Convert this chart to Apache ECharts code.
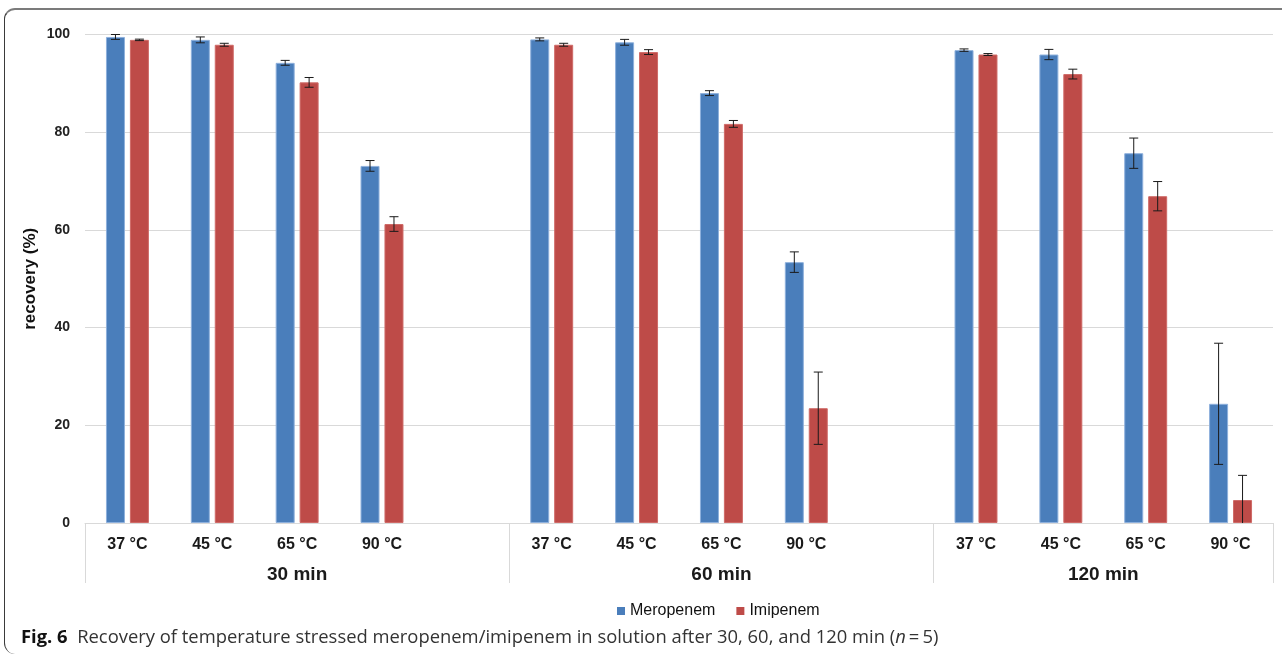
<!DOCTYPE html>
<html>
<head>
<meta charset="utf-8">
<title>Recovery of temperature stressed meropenem/imipenem</title>
<script src="https://cdn.jsdelivr.net/npm/echarts@6/dist/echarts.min.js"></script>
<style>
  html, body { margin: 0; padding: 0; background: #fff; }
  #wrap { position: relative; width: 1282px; height: 658px; overflow: hidden; }
  #chart { position: absolute; left: 0; top: 0; width: 1282px; height: 658px; }
  #frame {
    position: absolute; left: 4px; top: 8px; width: 1400px; height: 646px;
    border-top: 2px solid #7b7b7b; border-left: 1px solid #3a3a3a;
    border-radius: 11px 0 0 11px; box-sizing: border-box; pointer-events: none;
  }
</style>
</head>
<body>
<div id="wrap">
  <div id="chart"></div>
  <div id="frame"></div>
</div>
<script>
// Incubation times (groups) and temperatures (bars within each group)
const groups = ['30 min', '60 min', '120 min'];
const temps = ['37 °C', '45 °C', '65 °C', '90 °C'];

// Mean recovery (%) and standard deviation, ordered group by group, temperature by temperature
const meroMean = [99.5, 98.9, 94.2, 73.1,   99.0, 98.4, 88.0, 53.4,   96.8, 95.9, 75.7, 24.4];
const meroSD   = [0.5,  0.6,  0.5,  1.1,    0.3,  0.6,  0.5,  2.1,    0.25, 1.05, 3.1,  12.4];
const imiMean  = [98.9, 97.9, 90.2, 61.2,   97.9, 96.4, 81.7, 23.5,   95.9, 91.9, 66.9, 4.7];
const imiSD    = [0.15, 0.3,  1.0,  1.5,    0.3,  0.5,  0.7,  7.4,    0.2,  1.0,  3.0,  5.05];

// Y axis range
const yMin = 0, yMax = 100, yStep = 20;

// Build the category axis: the temperatures of each group, with an empty spacer slot between groups
const categories = [];
const slotOf = [];          // data index -> category index
const groupStart = [];      // first category index of each group
const groupSpan = [];       // number of slots each group occupies (incl. spacer)
groups.forEach((g, gi) => {
  groupStart.push(categories.length);
  temps.forEach(t => { slotOf.push(categories.length); categories.push(t); });
  if (gi < groups.length - 1) categories.push('');
  groupSpan.push(categories.length - groupStart[gi]);
});
const nSlots = categories.length;

function seriesData(means) {
  const arr = new Array(nSlots).fill(null);
  means.forEach((v, i) => { arr[slotOf[i]] = v; });
  return arr;
}
function errorData(means, sds) {
  return means.map((m, i) => [slotOf[i], m, sds[i]]);
}

const groupCenters = groups.map((g, i) => groupStart[i] + groupSpan[i] / 2);
const groupEdges = groupStart.concat([nSlots]);

const BAR_W = 19;
const BAR_GAP = 0.26;

// Error bars (mean ± SD) placed over the matching bar of each pair
function makeErrorRenderer(side) {
  return function (params, api) {
    const x = api.value(0);
    const m = api.value(1);
    const sd = api.value(2);
    const hiV = m + sd;
    const loV = Math.max(yMin, m - sd);
    const hi = api.coord([x, hiV]);
    const lo = api.coord([x, loV]);
    const off = side * BAR_W * (1 + BAR_GAP) / 2;
    const cx = hi[0] + off;
    const half = 4.5;
    const style = { stroke: '#1a1a1a', lineWidth: 1 };
    const children = [
      { type: 'line', shape: { x1: cx, y1: hi[1], x2: cx, y2: lo[1] }, style: style },
      { type: 'line', shape: { x1: cx - half, y1: hi[1], x2: cx + half, y2: hi[1] }, style: style }
    ];
    if (m - sd >= yMin) {
      children.push({ type: 'line', shape: { x1: cx - half, y1: lo[1], x2: cx + half, y2: lo[1] }, style: style });
    }
    return { type: 'group', children: children };
  };
}

const FONT = '"Liberation Sans", Arial, sans-serif';
const CAPTION_FONT = '"Open Sans", sans-serif';
const gridColor = '#d9d9d9';

const chart = echarts.init(document.getElementById('chart'), null, { renderer: 'canvas' });
chart.setOption({
  animation: false,
  backgroundColor: '#ffffff',
  textStyle: { fontFamily: FONT },
  title: {
    left: 21,
    top: 629,
    padding: 0,
    text: '{b|Fig. 6}  Recovery of temperature stressed meropenem/imipenem in solution after 30, 60, and 120 min ({i|n}\u2009=\u20095)',
    textStyle: {
      fontFamily: CAPTION_FONT,
      fontSize: 18.4,
      fontWeight: 'normal',
      color: '#333333',
      rich: {
        b: { fontFamily: CAPTION_FONT, fontSize: 18.4, fontWeight: 'bold', color: '#111111' },
        i: { fontFamily: CAPTION_FONT, fontSize: 18.4, fontStyle: 'italic', color: '#333333' }
      }
    }
  },
  legend: {
    left: 612,
    top: 598,
    icon: 'rect',
    itemWidth: 8,
    itemHeight: 8,
    itemGap: 21,
    itemStyle: { borderWidth: 0 },
    textStyle: { fontFamily: FONT, fontSize: 16, color: '#111111' },
    data: ['Meropenem', 'Imipenem']
  },
  grid: { left: 85, right: 9, top: 34.5, bottom: 135, containLabel: false },
  xAxis: [
    {
      type: 'category',
      data: categories,
      axisLine: { show: true, lineStyle: { color: gridColor, width: 1 } },
      axisTick: { show: false },
      axisLabel: {
        interval: 0, margin: 14,
        fontFamily: FONT, fontSize: 16, fontWeight: 'bold', color: '#1a1a1a'
      },
      splitLine: { show: false }
    },
    {
      type: 'value',
      position: 'bottom',
      min: 0,
      max: nSlots,
      axisLine: { show: false },
      axisTick: {
        show: true, inside: false, length: 60,
        customValues: groupEdges,
        lineStyle: { color: gridColor, width: 1 }
      },
      axisLabel: {
        margin: 42,
        customValues: groupCenters,
        formatter: function (v) {
          const i = groupCenters.findIndex(c => Math.abs(c - v) < 1e-6);
          return i >= 0 ? groups[i] : '';
        },
        fontFamily: FONT, fontSize: 19, fontWeight: 'bold', color: '#1a1a1a'
      },
      splitLine: { show: false }
    }
  ],
  yAxis: {
    type: 'value',
    min: yMin, max: yMax, interval: yStep,
    name: 'recovery (%)',
    nameLocation: 'middle',
    nameGap: 46,
    nameMoveOverlap: false,
    nameTextStyle: { fontFamily: FONT, fontSize: 17, fontWeight: 'bold', color: '#111111' },
    axisLine: { show: false },
    axisTick: { show: false },
    axisLabel: { margin: 15, fontFamily: FONT, fontSize: 14, fontWeight: 'bold', color: '#222222' },
    splitLine: { show: true, lineStyle: { color: gridColor, width: 1 } }
  },
  series: [
    {
      name: 'Meropenem',
      type: 'bar',
      barWidth: BAR_W,
      barGap: (BAR_GAP * 100) + '%',
      itemStyle: { color: '#4a7ebb', borderColor: '#8eb0dc', borderWidth: 1 },
      data: seriesData(meroMean)
    },
    {
      name: 'Imipenem',
      type: 'bar',
      barWidth: BAR_W,
      barGap: (BAR_GAP * 100) + '%',
      itemStyle: { color: '#be4b48', borderColor: '#cf6a67', borderWidth: 1 },
      data: seriesData(imiMean)
    },
    {
      name: 'Meropenem SD',
      type: 'custom',
      renderItem: makeErrorRenderer(-1),
      encode: { x: 0, y: 1 },
      data: errorData(meroMean, meroSD),
      z: 10,
      silent: true
    },
    {
      name: 'Imipenem SD',
      type: 'custom',
      renderItem: makeErrorRenderer(1),
      encode: { x: 0, y: 1 },
      data: errorData(imiMean, imiSD),
      z: 10,
      silent: true
    }
  ]
});
</script>
</body>
</html>
